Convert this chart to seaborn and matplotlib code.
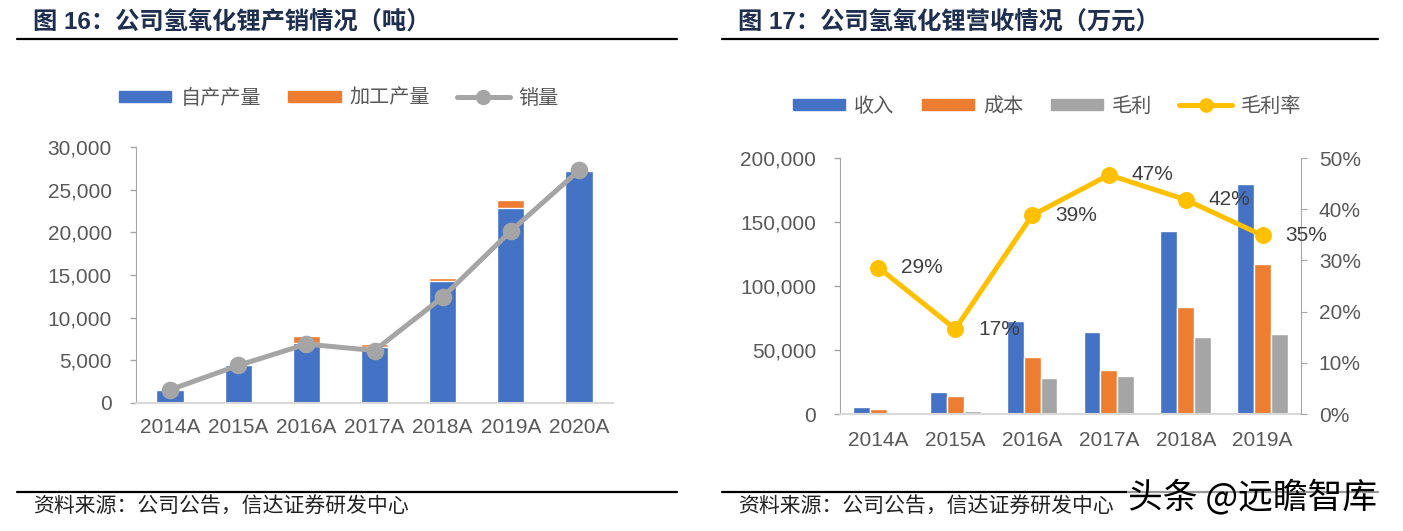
import numpy as np
import pandas as pd
import matplotlib
matplotlib.use("Agg")
import matplotlib.pyplot as plt
from matplotlib.patches import Patch
from matplotlib.lines import Line2D
import seaborn as sns

# ---- data ----
years_l = ["2014A", "2015A", "2016A", "2017A", "2018A", "2019A", "2020A"]
own_prod = [1550, 4400, 7000, 6550, 14250, 22850, 27200]      # 自产产量
proc_prod = [0, 100, 900, 330, 450, 900, 0]                    # 加工产量
sales = [1550, 4400, 6900, 6150, 12400, 20150, 27250]          # 销量

years_r = ["2014A", "2015A", "2016A", "2017A", "2018A", "2019A"]
revenue = [5700, 16900, 72400, 64300, 143200, 179900]          # 收入
cost = [4200, 14300, 44300, 34400, 83600, 117100]              # 成本
gross = [1300, 2600, 27900, 29900, 60000, 62800]               # 毛利
margin = [0.286, 0.166, 0.388, 0.467, 0.4185, 0.3487]          # 毛利率

BLUE, ORANGE, GRAY, YELLOW = "#4472C4", "#ED7D31", "#A5A5A5", "#FFC000"
TXT = "#595959"

sns.set_style("white")
plt.rcParams["font.family"] = ["Liberation Sans", "Noto Sans CJK SC", "DejaVu Sans"]

W, H = 1403, 531
fig = plt.figure(figsize=(W / 100, H / 100), dpi=100)


def style_axis(ax, pad_y=13, pad_x=11):
    for s in ["top", "right"]:
        ax.spines[s].set_visible(False)
    ax.spines["left"].set_color("#A6A6A6")
    ax.spines["bottom"].set_color("#D9D9D9")
    ax.spines["bottom"].set_linewidth(1.5)
    ax.tick_params(axis="y", length=4.3, width=1, color="#A6A6A6", pad=pad_y,
                   labelsize=15, labelcolor=TXT, left=True)
    ax.tick_params(axis="x", length=0, pad=pad_x, labelsize=15, labelcolor=TXT)
    ax.set_xlabel("")
    ax.set_ylabel("")


# ---- left chart: production & sales ----
axl = fig.add_axes([136 / W, 1 - 403 / H, 477 / W, 256 / H])
total = [a + b for a, b in zip(own_prod, proc_prod)]
sns.barplot(x=years_l, y=total, color=ORANGE, width=0.4, saturation=1, ax=axl)
sns.barplot(x=years_l, y=own_prod, color=BLUE, width=0.4, saturation=1, ax=axl)
sns.pointplot(x=years_l, y=sales, color=GRAY, markers="o", errorbar=None,
              markersize=10, linewidth=3.6, ax=axl)
axl.set_ylim(0, 30000)
axl.set_yticks(range(0, 30001, 5000))
axl.set_yticklabels([f"{v:,}" for v in range(0, 30001, 5000)])
axl.set_xlim(-0.5, 6.5)
style_axis(axl, pad_y=13, pad_x=11)

# ---- right chart: revenue / cost / gross profit ----
axr = fig.add_axes([840 / W, 1 - 414 / H, 461 / W, 256 / H])
df = pd.DataFrame({
    "year": years_r * 3,
    "value": revenue + cost + gross,
    "item": ["收入"] * 6 + ["成本"] * 6 + ["毛利"] * 6,
})
sns.barplot(data=df, x="year", y="value", hue="item", palette=[BLUE, ORANGE, GRAY],
            width=0.66, gap=0, saturation=1, legend=False, ax=axr)
axr.set_ylim(0, 200000)
axr.set_yticks(range(0, 200001, 50000))
axr.set_yticklabels([f"{v:,}" for v in range(0, 200001, 50000)])
axr.set_xlim(-0.5, 5.5)
style_axis(axr, pad_y=13, pad_x=12)

ax2 = axr.twinx()
sns.pointplot(x=years_r, y=margin, color=YELLOW, markers="o", errorbar=None,
              markersize=9.5, linewidth=3.6, ax=ax2)
ax2.set_ylim(0, 0.5)
ax2.set_xlim(-0.5, 5.5)
ax2.set_yticks(np.arange(0, 0.51, 0.1))
ax2.set_yticklabels([f"{int(round(v * 100))}%" for v in np.arange(0, 0.51, 0.1)])
for s in ["top", "left", "bottom"]:
    ax2.spines[s].set_visible(False)
ax2.spines["right"].set_color("#A6A6A6")
ax2.tick_params(axis="y", length=4.3, color="#A6A6A6", pad=8.5, labelsize=15,
                labelcolor=TXT, right=True)
ax2.set_ylabel("")
for i, m in enumerate(margin):
    ax2.annotate(f"{m:.0%}", (i, m), xytext=(16.5, 0), textcoords="offset points",
                 ha="left", va="center", fontsize=15, color="#404040")

# ---- legends ----
leg_kw = dict(loc="center", frameon=False, fontsize=14.5, handleheight=0.5,
              handlelength=2.6, handletextpad=0.45, columnspacing=1.35,
              labelcolor=TXT, numpoints=1)
h_left = [Patch(color=BLUE), Patch(color=ORANGE),
          Line2D([], [], color=GRAY, lw=3.6, marker="o", ms=10)]
fig.legend(h_left, ["自产产量", "加工产量", "销量"], ncol=3,
           bbox_to_anchor=(339 / W, 1 - 98 / H), **leg_kw)
h_right = [Patch(color=BLUE), Patch(color=ORANGE), Patch(color=GRAY),
           Line2D([], [], color=YELLOW, lw=3.6, marker="o", ms=9.5)]
fig.legend(h_right, ["收入", "成本", "毛利", "毛利率"], ncol=4,
           bbox_to_anchor=(1047 / W, 1 - 106 / H), **leg_kw)

# ---- titles, rules, sources ----
title_kw = dict(fontsize=17.5, fontweight="bold", color="#1F2F4F", va="center")
fig.text(33 / W, 1 - 22 / H, "图 16：公司氢氧化锂产销情况（吨）", **title_kw)
fig.text(738 / W, 1 - 22 / H, "图 17：公司氢氧化锂营收情况（万元）", **title_kw)
for x0, x1 in [(17, 677), (722, 1378)]:
    for y in (39, 492):
        fig.add_artist(Line2D([x0 / W, x1 / W], [1 - y / H, 1 - y / H],
                              color="black", lw=1.6))
src_kw = dict(fontsize=15, color="#222222", va="center", style="italic")
fig.text(33 / W, 1 - 506 / H, "资料来源：公司公告，信达证券研发中心", **src_kw)
fig.text(738 / W, 1 - 506 / H, "资料来源：公司公告，信达证券研发中心", **src_kw)
wm = fig.text(1128 / W, 1 - 497 / H, "头条 @远瞻智库", fontsize=25, color="black",
              va="center", family=["Noto Sans CJK SC", "DejaVu Sans"])
wm.set_bbox(dict(facecolor="white", edgecolor="none", pad=1, alpha=0.6))

fig.savefig("out.png", dpi=100)
